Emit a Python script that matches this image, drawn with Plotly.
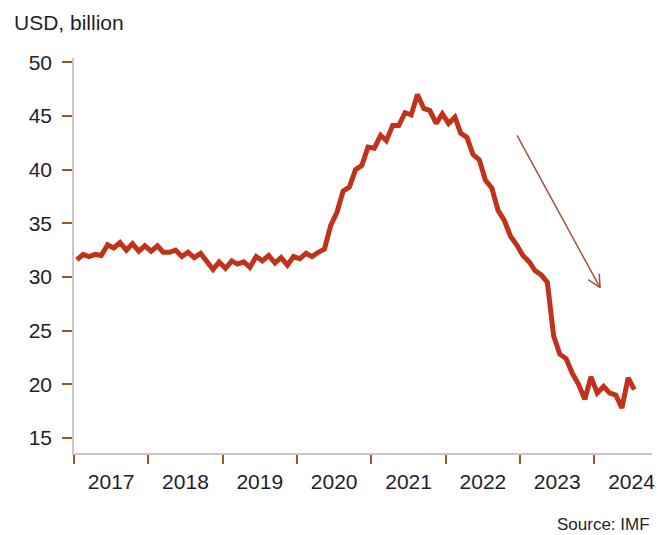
import plotly.graph_objects as go
import pandas as pd

# Monthly values (USD billion), Jan 2017 - Jul 2024
values = [
    31.6, 32.1, 31.9, 32.1, 32.0, 33.0, 32.7, 33.2, 32.5, 33.1, 32.4, 32.9,   # 2017
    32.4, 32.9, 32.3, 32.3, 32.5, 31.9, 32.3, 31.8, 32.2, 31.5, 30.7, 31.4,   # 2018
    30.8, 31.5, 31.2, 31.4, 30.9, 31.9, 31.5, 32.0, 31.3, 31.8, 31.1, 31.9,   # 2019
    31.7, 32.2, 31.9, 32.3, 32.6, 34.8, 36.0, 38.0, 38.4, 40.0, 40.4, 42.1,   # 2020
    42.0, 43.2, 42.7, 44.1, 44.1, 45.3, 45.1, 47.0, 45.7, 45.5, 44.3, 45.2,   # 2021
    44.3, 44.9, 43.4, 43.0, 41.4, 40.9, 39.0, 38.3, 36.2, 35.3, 33.8, 33.0,   # 2022
    32.0, 31.4, 30.6, 30.2, 29.5, 24.5, 22.8, 22.4, 21.0, 20.0, 18.6, 20.7,   # 2023
    19.2, 19.8, 19.2, 19.0, 17.8, 20.6, 19.5,                                 # 2024
]
dates = pd.date_range("2017-01-01", periods=len(values), freq="MS") + pd.Timedelta(days=14)

y_ticks = [15, 20, 25, 30, 35, 40, 45, 50]
y_label = "USD, billion"
source_label = "Source: IMF"

# Trend arrow endpoints (data coordinates)
arrow_start = ("2022-12-17", 43.2)
arrow_end = ("2024-01-29", 29.0)

LINE_COLOR = "#C0321A"
TICK_COLOR = "#A0522D"
ARROW_COLOR = "#A0553A"
AXIS_COLOR = "#C8C8C8"
TEXT_COLOR = "#1E1E2A"
FONT = "Liberation Sans, Arial, sans-serif"

fig = go.Figure()
fig.add_trace(go.Scatter(
    x=dates, y=values, mode="lines",
    line=dict(color=LINE_COLOR, width=5),
    hoverinfo="x+y", showlegend=False,
))

# Arrow shaft
fig.add_shape(type="line", xref="x", yref="y",
              x0=arrow_start[0], y0=arrow_start[1], x1=arrow_end[0], y1=arrow_end[1],
              line=dict(color=ARROW_COLOR, width=1.5))
# Arrow head (open V, pixel-sized, anchored at the tip)
for dx, dy in [(-0.8, 14), (-12, 8)]:
    fig.add_shape(type="line", xref="x", yref="y",
                  xsizemode="pixel", ysizemode="pixel",
                  xanchor=arrow_end[0], yanchor=arrow_end[1],
                  x0=0, y0=0, x1=dx, y1=dy,
                  line=dict(color=ARROW_COLOR, width=1.5))

fig.add_annotation(text=y_label, xref="paper", yref="paper",
                   x=-0.108, y=1.091, xanchor="left", yanchor="middle",
                   showarrow=False, font=dict(family=FONT, size=21, color=TEXT_COLOR))
fig.add_annotation(text=source_label, xref="paper", yref="paper",
                   x=1.0, y=-0.18, xanchor="right", yanchor="middle",
                   showarrow=False, font=dict(family=FONT, size=17, color=TEXT_COLOR))

fig.update_layout(
    width=658, height=535,
    margin=dict(l=74, r=6, t=58, b=82, autoexpand=False),
    paper_bgcolor="white", plot_bgcolor="white",
    font=dict(family=FONT, size=21, color=TEXT_COLOR),
    xaxis=dict(
        type="date",
        range=["2017-01-01", "2024-10-10"],
        tick0="2017-01-01", dtick="M12", tickformat="%Y",
        ticklabelmode="period",
        ticks="outside", ticklen=9, tickwidth=2, tickcolor=TICK_COLOR,
        showline=True, linecolor=AXIS_COLOR, linewidth=1.5,
        showgrid=False, zeroline=False, automargin=False,
        tickfont=dict(family=FONT, size=21, color=TEXT_COLOR),
    ),
    yaxis=dict(
        range=[13.6, 50.4],
        tickvals=y_ticks,
        ticks="outside", ticklen=10, tickwidth=2, tickcolor=TICK_COLOR,
        showline=True, linecolor=AXIS_COLOR, linewidth=1.5,
        showgrid=False, zeroline=False, automargin=False,
        ticklabelstandoff=6,
        tickfont=dict(family=FONT, size=21, color=TEXT_COLOR),
    ),
)

fig.write_html("out.html", config={"displayModeBar": False},
               post_script="document.body.style.margin='0';")
